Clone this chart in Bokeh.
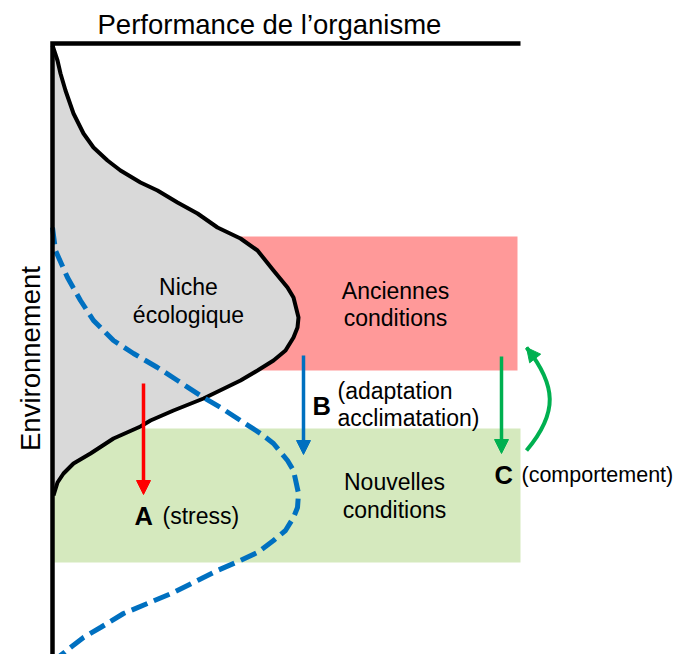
from math import pi
from bokeh.plotting import figure
from bokeh.models import Range1d, Arrow, NormalHead
from bokeh.core.properties import value
from bokeh.embed import file_html
from bokeh.resources import INLINE

# ---- data (in picture pixel units) ----
# ecological niche curve (performance vs environment)
niche_x = [52, 57, 60, 65, 73, 83, 93, 107, 120, 140, 157, 177, 197, 217, 240, 257, 273, 287, 293,
           298, 297, 293, 285, 273, 257, 240, 203, 173, 150, 140, 113, 90, 73, 63, 57, 53]
niche_y = [45, 60, 73, 90, 113, 133, 147, 160, 170, 182, 190, 202, 213, 227, 238, 250, 270, 287, 297,
           317, 327, 337, 350, 360, 370, 380, 398, 410, 420, 426, 438, 453, 463, 473, 482, 495]
# shifted niche (dashed)
shift_x = [52, 55, 67, 80, 93, 113, 133, 157, 177, 203, 220, 240, 260, 273, 287, 293, 298, 297, 293,
           285, 273, 257, 240, 217, 197, 173, 147, 123, 100, 83, 70, 60, 53]
shift_y = [227, 250, 277, 300, 320, 340, 353, 367, 380, 397, 407, 420, 433, 443, 460, 470, 493, 507, 517,
           530, 540, 552, 560, 570, 580, 592, 603, 613, 627, 637, 647, 655, 663]

# condition boxes
box_names = ["Anciennes conditions", "Nouvelles conditions"]
box_left = [52, 52]
box_right = [517, 520]
box_top = [236, 428]
box_bottom = [370, 562]
box_colors = ["#ff9999", "#d5e9be"]

# straight arrows A, B, C
arrow_x = [143, 303, 501]
arrow_y0 = [383, 355, 356]
arrow_y1 = [494, 454, 453]
arrow_colors = ["#ff0000", "#0070c0", "#00b050"]

# curved return arrow (C)
curve_x0, curve_y0, curve_x1, curve_y1 = 526, 450, 526, 347
curve_cx0, curve_cy0, curve_cx1, curve_cy1 = 558, 412, 556, 385

# texts (y = baseline)
box_text_x = [395, 395, 394, 394]
box_text_y = [290, 317, 481, 509]
box_text = ["Anciennes", "conditions", "Nouvelles", "conditions"]
niche_text_x = [188, 188]
niche_text_y = [286, 314]
niche_text = ["Niche", "écologique"]
letter_x = [134, 312, 494]
letter_y = [515, 405, 474]
letter_text = ["A", "B", "C"]
note_x = [162, 337, 337]
note_y = [515, 390, 417]
note_text = ["(stress)", "(adaptation", "acclimatation)"]
c_note_x, c_note_y, c_note_text = [521], [474], ["(comportement)"]

FONT = value("Liberation Sans")

p = figure(width=675, height=654, x_range=Range1d(0, 675), y_range=Range1d(654, 0),
           output_backend="svg", toolbar_location=None, x_axis_type=None, y_axis_type=None,
           min_border=0)
p.outline_line_color = None
p.background_fill_color = "white"

# boxes
p.quad(left=box_left, right=box_right, top=box_top, bottom=box_bottom,
       fill_color=box_colors, line_color=None)

# niche filled area
p.patch(x=[52] + niche_x + [52], y=[niche_y[0]] + niche_y + [niche_y[-1]],
        fill_color="#d9d9d9", line_color=None)
p.line(x=niche_x, y=niche_y, line_color="black", line_width=4, line_join="round")

# shifted niche
p.line(x=shift_x, y=shift_y, line_color="#0070c0", line_width=5, line_dash="17 7")

# axes
p.line(x=[520, 52, 52], y=[43, 43, 666], line_color="black", line_width=4.5, line_join="miter")

# straight arrows
for xa, ya0, ya1, c in zip(arrow_x, arrow_y0, arrow_y1, arrow_colors):
    p.add_layout(Arrow(end=NormalHead(size=14, fill_color=c, line_color=c, line_width=1),
                       x_start=xa, y_start=ya0, x_end=xa, y_end=ya1,
                       line_color=c, line_width=3.5))

# curved arrow
p.bezier(x0=[curve_x0], y0=[curve_y0], x1=[curve_x1], y1=[curve_y1],
         cx0=[curve_cx0], cy0=[curve_cy0], cx1=[curve_cx1], cy1=[curve_cy1],
         line_color="#00b050", line_width=4)
p.add_layout(Arrow(end=NormalHead(size=14, fill_color="#00b050", line_color="#00b050", line_width=1),
                   x_start=curve_cx1, y_start=curve_cy1, x_end=curve_x1, y_end=curve_y1,
                   line_alpha=0))

# texts
p.text(x=[97], y=[24], text=["Performance de l\u2019organisme"], text_font=FONT,
       text_font_size=value("27.5px"), text_align="left", text_baseline="alphabetic", text_color="black")
p.text(x=[30], y=[358], text=["Environnement"], angle=pi / 2, text_font=FONT,
       text_font_size=value("27.5px"), text_align="center", text_baseline="alphabetic", text_color="black")
p.text(x=box_text_x, y=box_text_y, text=box_text, text_font=FONT, text_font_size=value("23px"),
       text_align="center", text_baseline="alphabetic", text_color="black")
p.text(x=niche_text_x, y=niche_text_y, text=niche_text, text_font=FONT, text_font_size=value("23px"),
       text_align="center", text_baseline="alphabetic", text_color="black")
p.text(x=letter_x, y=letter_y, text=letter_text, text_font=FONT, text_font_size=value("25.5px"),
       text_font_style="bold", text_align="left", text_baseline="alphabetic", text_color="black")
p.text(x=note_x, y=note_y, text=note_text, text_font=FONT, text_font_size=value("23px"),
       text_align="left", text_baseline="alphabetic", text_color="black")
p.text(x=c_note_x, y=c_note_y, text=c_note_text, text_font=FONT, text_font_size=value("21.5px"),
       text_align="left", text_baseline="alphabetic", text_color="black")

open("out.html", "w").write(file_html(p, INLINE))
